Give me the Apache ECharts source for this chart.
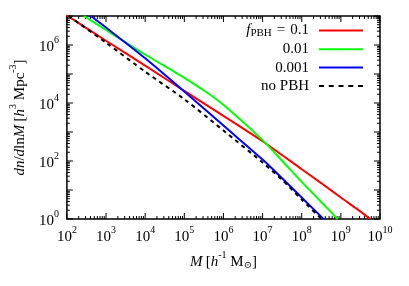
<!DOCTYPE html>
<html><head><meta charset="utf-8">
<script src="https://cdn.jsdelivr.net/npm/echarts@6/dist/echarts.min.js"></script>
<style>html,body{margin:0;padding:0;background:#fff}#c{width:409px;height:286px}</style>
</head><body><div id="c"></div>
<script>
// Values (M in h^-1 Msun, dn/dlnM in h^3 Mpc^-3)
const redM   = [1e2, 1e3, 1e4, 1e5, 1e6, 1e7, 1e8, 3.2e8, 1e9, 3.2e9, 5.6e9];
const redN   = [1.05e7, 1.4e6, 1.95e5, 2.6e4, 3.6e3, 480, 52, 17, 5.5, 1.8, 1.0];
const greenM = [2.75e2, 1e3, 1e4, 1e5, 3.2e5, 1e6, 1e7, 3.2e7, 1e8, 3.2e8, 8.3e8];
const greenN = [1.0e7, 3.3e6, 4.7e5, 7.4e4, 2.7e4, 8.7e3, 525, 100, 19, 3.8, 1.0];
const blueM  = [4.1e2, 1e3, 1e4, 1e5, 1e6, 1e7, 3.2e7, 1e8, 3.6e8];
const blueN  = [1.0e7, 4.0e6, 3.5e5, 2.5e4, 1.66e3, 112, 25, 5.5, 1.0];
const noM    = [1.1e2, 1e3, 1e4, 1e5, 1e6, 1e7, 3.2e7, 1e8, 3.2e8];
const noN    = [1.0e7, 1.2e6, 1.2e5, 1.35e4, 1.12e3, 89, 22, 4.7, 1.0];
const seriesNames = ['0.1', '0.01', '0.001', 'no PBH'];
const xDecades = [2, 3, 4, 5, 6, 7, 8, 9, 10];   // tick exponents of M
const yDecades = [0, 1, 2, 3, 4, 5, 6, 7];       // tick exponents of dn/dlnM
const yLabelled = [0, 2, 4, 6];

const FONT = '"Liberation Serif", "DejaVu Serif", serif';
const X_MIN = 2, X_MAX = 10, Y_MIN = 0, Y_MAX = 7;

function toLog(M, N) { return M.map((m, i) => [Math.log10(m), Math.log10(N[i])]); }

// tick positions (major + log minor) for custom rendering
const tickData = [];
xDecades.forEach(d => {
  tickData.push([d, 0, 6]);
  if (d < X_MAX) for (let k = 2; k <= 9; k++) tickData.push([d + Math.log10(k), 0, 3]);
});
yDecades.forEach(d => {
  tickData.push([d, 1, 6]);
  if (d < Y_MAX) for (let k = 2; k <= 9; k++) tickData.push([d + Math.log10(k), 1, 3]);
});

const supRich = {
  b: {fontFamily: FONT, fontSize: 15, color: '#000', lineHeight: 20, verticalAlign: 'bottom'},
  s: {fontFamily: FONT, fontSize: 10, color: '#000', verticalAlign: 'top'}
};

const SOLID_ICON = 'path://M0,0H44V2H0Z';
const DASH_ICON = 'path://M0,0H5V2H0Z M9.75,0H14.75V2H9.75Z M19.5,0H24.5V2H19.5Z M29.25,0H34.25V2H29.25Z M39,0H44V2H39Z';

const chart = echarts.init(document.getElementById('c'), null, {renderer: 'canvas'});
const lineBase = {type: 'line', symbol: 'none', smooth: 0.25, clip: true, z: 3};
chart.setOption({
  animation: false,
  backgroundColor: '#fff',
  grid: {left: 59, right: 29, top: 16, bottom: 67, show: true, borderColor: '#000', borderWidth: 1.5, backgroundColor: 'transparent'},
  xAxis: {
    type: 'value', min: X_MIN, max: X_MAX, interval: 1,
    axisLine: {show: false}, axisTick: {show: false}, splitLine: {show: false},
    axisLabel: {margin: 6, formatter: v => '{b|10}{s|' + v + '}', rich: supRich},
    name: '{i|M} {b|[}{i|h}{s|-1}{b| M}{d|⊙}{b|]}', nameLocation: 'middle', nameGap: 27,
    nameTextStyle: {rich: {
      i: {fontFamily: FONT, fontSize: 15, fontStyle: 'italic', color: '#000', lineHeight: 20, verticalAlign: 'bottom'},
      b: {fontFamily: FONT, fontSize: 15, color: '#000', lineHeight: 20, verticalAlign: 'bottom'},
      s: {fontFamily: FONT, fontSize: 10, color: '#000', verticalAlign: 'top'},
      d: {fontFamily: FONT, fontSize: 10, color: '#000', verticalAlign: 'bottom'}
    }}
  },
  yAxis: {
    type: 'value', min: Y_MIN, max: Y_MAX, interval: 1,
    axisLine: {show: false}, axisTick: {show: false}, splitLine: {show: false},
    axisLabel: {margin: 8, formatter: v => yLabelled.indexOf(v) >= 0 ? '{b|10}{s|' + v + '}' : '', rich: supRich},
    name: '{i|dn}{b|/}{i|d}{b|ln}{i|M} {b|[}{i|h}{s|3}{b| Mpc}{s|-3}{b|]}', nameLocation: 'middle', nameGap: 32, nameRotate: 90,
    nameTextStyle: {rich: {
      i: {fontFamily: FONT, fontSize: 15, fontStyle: 'italic', color: '#000', lineHeight: 20, verticalAlign: 'bottom'},
      b: {fontFamily: FONT, fontSize: 15, color: '#000', lineHeight: 20, verticalAlign: 'bottom'},
      s: {fontFamily: FONT, fontSize: 10, color: '#000', verticalAlign: 'top'}
    }}
  },
  legend: {
    data: seriesNames.map((n, i) => ({name: n, icon: i === 3 ? DASH_ICON : SOLID_ICON})),
    orient: 'vertical', align: 'right', right: 41, top: 18,
    itemWidth: 44, itemHeight: 14, itemGap: 3.3, selectedMode: false,
    formatter: n => n === '0.1' ? '{i|f}{sub|PBH}{eq|=}{r|0.1}' : '{r|' + n + '}',
    textStyle: {width: 110, padding: [0, 5, 0, 0], rich: {
      i: {fontFamily: FONT, fontSize: 15, fontStyle: 'italic', color: '#000', lineHeight: 16, align: 'right'},
      sub: {fontFamily: FONT, fontSize: 11, color: '#000', lineHeight: 10, verticalAlign: 'bottom', align: 'right'},
      eq: {fontFamily: FONT, fontSize: 15, color: '#000', lineHeight: 16, align: 'right', padding: [0, 5, 0, 5]},
      r: {fontFamily: FONT, fontSize: 15, color: '#000', lineHeight: 16, align: 'right'}
    }}
  },
  series: [
    Object.assign({}, lineBase, {name: '0.1', data: toLog(redM, redN), lineStyle: {color: '#ff0000', width: 2}, itemStyle: {color: '#ff0000'}}),
    Object.assign({}, lineBase, {name: '0.01', data: toLog(greenM, greenN), lineStyle: {color: '#00ff00', width: 2}, itemStyle: {color: '#00ff00'}}),
    Object.assign({}, lineBase, {name: '0.001', data: toLog(blueM, blueN), lineStyle: {color: '#0000ff', width: 2}, itemStyle: {color: '#0000ff'}}),
    Object.assign({}, lineBase, {name: 'no PBH', data: toLog(noM, noN), lineStyle: {color: '#000', width: 2, type: [4, 4]}, itemStyle: {color: '#000'}}),
    {
      type: 'custom', silent: true, clip: false, z: 1, data: tickData,
      renderItem: (params, api) => {
        const v = api.value(0), kind = api.value(1), len = api.value(2);
        const st = {stroke: '#000', lineWidth: 1};
        if (kind === 0) {
          const b = api.coord([v, Y_MIN]), t = api.coord([v, Y_MAX]);
          return {type: 'group', children: [
            {type: 'line', shape: {x1: b[0], y1: b[1], x2: b[0], y2: b[1] - len}, style: st},
            {type: 'line', shape: {x1: t[0], y1: t[1], x2: t[0], y2: t[1] + len}, style: st}
          ]};
        }
        const l = api.coord([X_MIN, v]), r = api.coord([X_MAX, v]);
        return {type: 'group', children: [
          {type: 'line', shape: {x1: l[0], y1: l[1], x2: l[0] + len, y2: l[1]}, style: st},
          {type: 'line', shape: {x1: r[0], y1: r[1], x2: r[0] - len, y2: r[1]}, style: st}
        ]};
      }
    }
  ]
});
</script></body></html>
